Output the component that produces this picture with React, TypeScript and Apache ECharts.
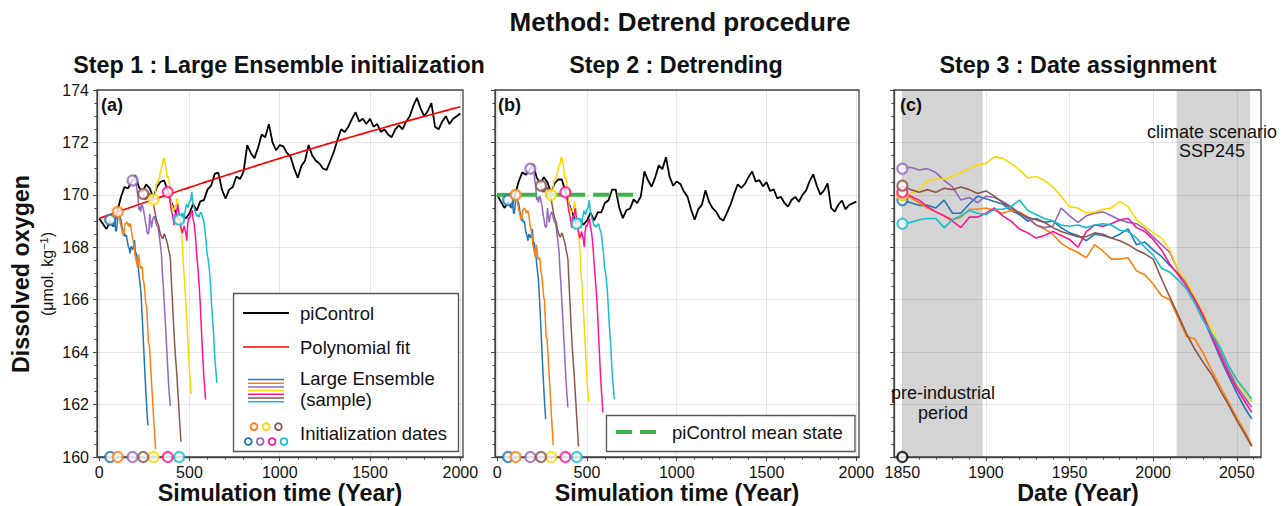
import React, { useEffect, useRef } from "react";
import * as echarts from "echarts";

const FONT = "'Liberation Sans', Arial, Helvetica, sans-serif";
const AXIS_COLOR = "#444";
const GRID_COLOR = "rgba(0,0,0,0.09)";

// ---------- data ----------
// piControl (raw, panel a): one value every 20 simulation years, year 0 .. 2000
const PIC_STEP = 20;
const PI_CONTROL = [
  169.1, 168.9, 168.7, 168.95, 168.8, 169.35, 169.9, 170.3, 170.25, 170.5,
  170.75, 170.3, 170.1, 170.4, 170.25, 169.9, 170.3, 170.5, 170.55, 170.15,
  169.7, 169.4, 169.05, 169.25, 169.1, 169.3, 169.65, 169.4, 169.75, 169.8,
  170.2, 170.35, 170.8, 170.85, 170.2, 169.85, 170.2, 170.3, 170.7, 170.6,
  170.9, 171.9, 171.6, 171.4, 171.8, 172.3, 172.2, 172.7, 172.0, 171.7,
  171.9, 171.85, 171.6, 171.45, 171.0, 170.65, 171.1, 171.3, 171.9, 171.5,
  171.3, 171.2, 171.0, 170.95, 171.3, 171.65, 172.1, 172.5, 172.4, 172.6,
  172.9, 173.15, 172.8, 172.9, 172.7, 172.9, 172.6, 172.7, 172.4, 172.5,
  172.3, 172.2, 172.5, 172.65, 172.5, 172.8, 173.0, 173.4, 173.7, 173.3,
  173.0, 173.2, 173.5, 172.6, 172.5, 172.8, 173.0, 172.7, 172.9, 173.0,
  173.1,
];

// polynomial fit of piControl: c0 + c1*t + c2*t^2
const FIT_COEFFS = [169.1, 0.00245, -1.6e-7];
const MEAN_STATE = 170;
const MEAN_STATE_SPAN = [0, 800];

// Large Ensemble members (detrended values, by date)
const LE_DATES = [
  1850, 1855, 1860, 1865, 1870, 1875, 1880, 1885, 1890, 1895,
  1900, 1905, 1910, 1915, 1920, 1925, 1930, 1935, 1940, 1945,
  1950, 1955, 1960, 1965, 1970, 1975, 1980, 1985, 1990, 1995,
  2000, 2005, 2010, 2015, 2020, 2025, 2030, 2035, 2040, 2045,
  2050, 2055, 2059,
];
const LE_BLUE = [
  169.8, 169.7, 169.6, 169.6, 169.5, 169.8, 169.3, 169.3, 169.65, 169.95,
  169.85, 169.75, 169.65, 169.4, 169.25, 169.0, 169.1, 168.95, 169.0, 168.75,
  168.55, 168.45, 168.25, 168.5, 168.45, 168.35, 168.5, 168.7, 168.1, 168.2,
  167.9, 167.65, 167.3, 167.0, 166.65, 166.0, 165.3, 164.55, 163.8, 163.1,
  162.45, 161.85, 161.45,
];
const LE_ORANGE = [
  170.0, 169.9, 169.7, 169.5, 169.35, 169.2, 169.05, 169.15, 169.45, 169.45,
  169.5, 169.4, 169.3, 169.4, 169.35, 169.15, 168.85, 168.7, 168.5, 168.15,
  167.95, 167.8, 167.6, 168.1, 167.85, 167.55, 167.55, 167.6, 167.1, 166.95,
  166.6, 166.15, 166.0, 165.3, 164.6, 164.5, 163.95, 163.3, 162.7, 162.1,
  161.5, 160.95, 160.45,
];
const LE_PURPLE = [
  171.0, 171.05, 170.95, 171.0, 170.85, 170.55, 170.3, 169.8, 169.9, 169.7,
  169.95, 169.9, 169.75, 169.55, 169.3, 169.1, 168.85, 168.75, 168.8, 169.5,
  169.2, 168.95, 169.2, 169.3, 169.35, 169.2, 169.05, 168.95, 168.9, 168.7,
  168.4, 168.1, 167.8, 167.1, 166.6, 165.95, 165.35, 164.7, 164.05, 163.35,
  162.7, 162.25, 161.9,
];
const LE_YELLOW = [
  170.0, 170.05, 170.2, 170.55, 170.6, 170.6, 170.7, 170.85, 171.0, 171.15,
  171.2, 171.45, 171.4, 171.2, 170.95, 170.65, 170.7, 170.55, 170.3, 169.95,
  169.55, 169.5, 169.3, 169.35, 169.45, 169.5, 169.75, 169.55, 169.05, 168.8,
  168.55, 168.35, 167.9, 167.1, 166.7, 166.1, 165.5, 164.9, 164.2, 163.5,
  162.9, 162.45, 162.1,
];
const LE_PINK = [
  170.1, 169.95, 169.8, 169.55, 169.35, 169.2, 169.0, 168.75, 169.15, 169.15,
  169.3, 169.5, 169.2, 169.0, 168.7, 168.55, 168.35, 168.45, 168.6, 168.45,
  168.3, 168.0, 168.6, 168.85, 168.8, 168.9, 169.05, 169.1, 168.75, 168.6,
  168.3, 167.9, 167.35, 166.95, 166.5, 166.0, 165.4, 164.6, 163.9, 163.2,
  162.6, 162.1, 161.7,
];
const LE_BROWN = [
  170.35, 170.2, 170.1, 170.2, 170.1, 170.25, 170.2, 170.3, 170.2, 170.05,
  170.15, 169.95, 169.7, 169.5, 169.3, 169.15, 169.05, 168.95, 168.75, 168.6,
  168.5, 168.4, 168.4, 168.55, 168.5, 168.35, 168.25, 168.1, 167.9, 167.75,
  167.55, 166.8, 166.1, 165.4, 164.7, 164.1, 163.6, 163.15, 162.55, 162.0,
  161.4, 160.85, 160.4,
];
const LE_CYAN = [
  168.9, 168.95, 169.05, 169.1, 169.1, 168.75, 169.05, 169.2, 169.4, 169.3,
  169.25, 169.45, 169.45, 169.55, 169.8, 169.4, 169.25, 169.1, 169.0, 168.85,
  168.8, 168.85, 168.75, 168.85, 168.9, 168.85, 168.65, 168.6, 168.35, 168.0,
  167.7, 167.2, 167.05, 166.75, 166.4, 165.85, 165.2, 164.7, 164.2, 163.5,
  162.95, 162.55, 162.2,
];
const LE_VALUES = [LE_BLUE, LE_ORANGE, LE_PURPLE, LE_YELLOW, LE_PINK, LE_BROWN, LE_CYAN];
const LE_COLORS = ["#1f77b4", "#ff7f0e", "#9467bd", "#ffd700", "#ff1493", "#8c564b", "#17becf"];
// initialization (branching) year of each member in simulation time
const INIT_YEARS = [61, 103, 185, 301, 380, 244, 443];

// axes
const Y_MIN = 160;
const Y_MAX = 174;
const Y_STEP = 2;
const SIM_RANGE = [-12, 2015];
const SIM_TICKS = [0, 500, 1000, 1500, 2000];
const SIM_MINOR = [0, 100, 200, 300, 400, 500, 600, 700, 800, 900, 1000, 1100, 1200, 1300, 1400, 1500, 1600, 1700, 1800, 1900, 2000];
const DATE_RANGE = [1845, 2064.5];
const DATE_TICKS = [1850, 1900, 1950, 2000, 2050];
const DATE_MINOR = [1850, 1860, 1870, 1880, 1890, 1900, 1910, 1920, 1930, 1940, 1950, 1960, 1970, 1980, 1990, 2000, 2010, 2020, 2030, 2040, 2050, 2060];
const PREINDUSTRIAL = [1850, 1898];
const SCENARIO = [2014, 2058];

// ---------- helpers ----------
const fit = (t: number) => FIT_COEFFS[0] + FIT_COEFFS[1] * t + FIT_COEFFS[2] * t * t;

function buildOption() {
  const picA = PI_CONTROL.map((v, i) => [i * PIC_STEP, v]);
  const fitA = PI_CONTROL.map((_, i) => [i * PIC_STEP, fit(i * PIC_STEP)]);
  const picB = PI_CONTROL.map((v, i) => [i * PIC_STEP, v - fit(i * PIC_STEP) + MEAN_STATE]);
  const leA = LE_VALUES.map((vals, k) =>
    vals.map((v, j) => {
      const t = INIT_YEARS[k] + LE_DATES[j] - LE_DATES[0];
      return [t, v + fit(t) - MEAN_STATE];
    })
  );
  const leB = LE_VALUES.map((vals, k) => vals.map((v, j) => [INIT_YEARS[k] + LE_DATES[j] - LE_DATES[0], v]));
  const leC = LE_VALUES.map((vals) => vals.map((v, j) => [LE_DATES[j], v]));

  const line = (name: string, data: any[], color: string, width: number, xi: number, extra: any = {}) => ({
    type: "line",
    name,
    data,
    xAxisIndex: xi,
    yAxisIndex: xi,
    showSymbol: false,
    symbol: "none",
    silent: true,
    lineStyle: { color, width },
    itemStyle: { color },
    z: 2,
    ...extra,
  });
  const circles = (pts: number[][], colors: string[], xi: number) => ({
    type: "scatter",
    xAxisIndex: xi,
    yAxisIndex: xi,
    symbol: "circle",
    symbolSize: 10,
    clip: false,
    silent: true,
    z: 4,
    itemStyle: { color: "#fff", borderWidth: 2.2 },
    data: pts.map((p, k) => ({ value: p, itemStyle: { color: "#fff", borderColor: colors[k], borderWidth: 2.2 } })),
  });

  const mainX = (gi: number, range: number[], ticks: number[]) => ({
    type: "value",
    gridIndex: gi,
    min: range[0],
    max: range[1],
    position: "bottom",
    z: 1.5,
    axisLine: { show: true, onZero: false, lineStyle: { color: AXIS_COLOR, width: 1.3 } },
    axisTick: { show: true, customValues: ticks, length: 4, lineStyle: { color: AXIS_COLOR, width: 1 } },
    axisLabel: {
      show: true,
      customValues: ticks,
      margin: 7,
      fontSize: 16,
      color: "#111",
      fontFamily: FONT,
      formatter: (v: number) => String(v),
    },
    splitLine: { show: true, lineStyle: { color: GRID_COLOR, width: 1 } },
    minorTick: { show: false },
  });
  const minorX = (gi: number, range: number[], ticks: number[]) => ({
    type: "value",
    gridIndex: gi,
    min: range[0],
    max: range[1],
    position: "bottom",
    z: 1.5,
    axisLine: { show: false, onZero: false },
    axisTick: { show: true, customValues: ticks, length: 2.5, lineStyle: { color: AXIS_COLOR, width: 1 } },
    axisLabel: { show: false },
    splitLine: { show: false },
  });
  const yAx = (gi: number, labels: boolean) => ({
    type: "value",
    gridIndex: gi,
    min: Y_MIN,
    max: Y_MAX,
    interval: Y_STEP,
    z: 1.5,
    axisLine: { show: true, onZero: false, lineStyle: { color: AXIS_COLOR, width: 1.3 } },
    axisTick: { show: true, length: 4, lineStyle: { color: AXIS_COLOR, width: 1 } },
    minorTick: { show: true, splitNumber: 4, length: 2.5, lineStyle: { color: AXIS_COLOR, width: 1 } },
    axisLabel: { show: labels, fontSize: 16, color: "#111", fontFamily: FONT, margin: 8, formatter: (v: number) => String(v) },
    splitLine: { show: true, lineStyle: { color: GRID_COLOR, width: 1 } },
    minorSplitLine: { show: false },
  });

  const gridBase = { top: 90, height: 367, show: true, borderColor: AXIS_COLOR, borderWidth: 1.3, z: 3, backgroundColor: "rgba(0,0,0,0)" };

  const series: any[] = [];
  // panel a
  series.push(line("piControl", picA, "#000", 1.8, 0));
  LE_VALUES.forEach((_, k) => series.push(line("LE a " + k, leA[k], LE_COLORS[k], 1.5, 0)));
  series.push(line("Polynomial fit", fitA, "#ff0000", 1.7, 0));
  series.push(circles(leA.map((d) => d[0]), LE_COLORS, 0));
  series.push(circles(INIT_YEARS.map((t) => [t, Y_MIN]), LE_COLORS, 0));
  // panel b
  series.push(line("piControl detrended", picB, "#000", 1.8, 1));
  LE_VALUES.forEach((_, k) => series.push(line("LE b " + k, leB[k], LE_COLORS[k], 1.5, 1)));
  series.push(
    line("piControl mean state", MEAN_STATE_SPAN.map((t) => [t, MEAN_STATE]), "#3cb44b", 4, 1, {
      lineStyle: { color: "#3cb44b", width: 4, type: [16, 8] },
      z: 3,
    })
  );
  series.push(circles(leB.map((d) => d[0]), LE_COLORS, 1));
  series.push(circles(INIT_YEARS.map((t) => [t, Y_MIN]), LE_COLORS, 1));
  // panel c
  LE_VALUES.forEach((_, k) =>
    series.push(
      line("LE c " + k, leC[k], LE_COLORS[k], 1.6, 2,
        k === 0
          ? {
              markArea: {
                silent: true,
                z: 1,
                itemStyle: { color: "#d4d4d4", opacity: 1, borderWidth: 0 },
                label: { show: false },
                data: [
                  [{ xAxis: PREINDUSTRIAL[0] }, { xAxis: PREINDUSTRIAL[1] }],
                  [{ xAxis: SCENARIO[0] }, { xAxis: SCENARIO[1] }],
                ],
              },
            }
          : {}
      )
    )
  );
  series.push(circles(leC.map((d) => d[0]), LE_COLORS, 2));
  series.push(circles([[LE_DATES[0], Y_MIN]], ["#000"], 2));

  const T = (text: string, x: number, y: number, font: string, align = "center", extra: any = {}) => ({
    type: "text",
    x,
    y,
    z: 20,
    silent: true,
    ...extra,
    style: { text, font, fill: "#111", align, verticalAlign: "middle", ...(extra.style || {}) },
  });

  const graphics: any[] = [
    T("Method: Detrend procedure", 680, 22, `bold 26px ${FONT}`),
    T("Step 1 : Large Ensemble initialization", 279, 65, `bold 23.3px ${FONT}`),
    T("Step 2 : Detrending", 676, 65, `bold 23.3px ${FONT}`),
    T("Step 3 : Date assignment", 1078, 65, `bold 23.3px ${FONT}`),
    T("Simulation time (Year)", 280, 493, `bold 23.3px ${FONT}`),
    T("Simulation time (Year)", 677, 493, `bold 23.3px ${FONT}`),
    T("Date (Year)", 1078, 493, `bold 23.3px ${FONT}`),
    T("Dissolved oxygen", 21, 274, `bold 23.3px ${FONT}`, "center", { rotation: Math.PI / 2 }),
    {
      type: "text",
      x: 47,
      y: 274,
      rotation: Math.PI / 2,
      z: 20,
      silent: true,
      style: {
        text: "(μmol. kg{sup|−1})",
        font: `16px ${FONT}`,
        fill: "#111",
        align: "center",
        verticalAlign: "middle",
        lineHeight: 18,
        rich: { sup: { fontSize: 11, fontFamily: FONT, fill: "#111", verticalAlign: "top", lineHeight: 18 } },
      },
    },
    T("(a)", 101, 105, `bold 18px ${FONT}`, "left"),
    T("(b)", 498, 105, `bold 18px ${FONT}`, "left"),
    T("(c)", 900, 105, `bold 18px ${FONT}`, "left"),
    // panel c annotations
    T("pre-industrial", 943, 393, `18px ${FONT}`),
    T("period", 943, 413, `18px ${FONT}`),
    T("climate scenario", 1212, 132, `18px ${FONT}`),
    T("SSP245", 1212, 151, `18px ${FONT}`),
    // legend a
    { type: "rect", z: 15, silent: true, shape: { x: 233.5, y: 293.5, width: 225, height: 158 }, style: { fill: "#fff", stroke: "#555", lineWidth: 1.3 } },
    { type: "line", z: 16, silent: true, shape: { x1: 243, y1: 313, x2: 289, y2: 313 }, style: { stroke: "#000", lineWidth: 1.8 } },
    T("piControl", 300, 313, `18.5px ${FONT}`, "left"),
    { type: "line", z: 16, silent: true, shape: { x1: 243, y1: 347, x2: 289, y2: 347 }, style: { stroke: "#ff0000", lineWidth: 1.7 } },
    T("Polynomial fit", 300, 347, `18.5px ${FONT}`, "left"),
    ...LE_COLORS.map((c, k) => ({
      type: "line",
      z: 16,
      silent: true,
      shape: { x1: 248, y1: 379.5 + k * 3.7, x2: 284, y2: 379.5 + k * 3.7 },
      style: { stroke: c, lineWidth: 1.5 },
    })),
    T("Large Ensemble", 300, 378, `18.5px ${FONT}`, "left"),
    T("(sample)", 300, 399, `18.5px ${FONT}`, "left"),
    ...[LE_COLORS[1], LE_COLORS[3], LE_COLORS[5]].map((c, k) => ({
      type: "circle",
      z: 16,
      silent: true,
      shape: { cx: 254 + k * 12.2, cy: 426.7, r: 3.4 },
      style: { fill: "#fff", stroke: c, lineWidth: 1.8 },
    })),
    ...[LE_COLORS[0], LE_COLORS[2], LE_COLORS[4], LE_COLORS[6]].map((c, k) => ({
      type: "circle",
      z: 16,
      silent: true,
      shape: { cx: 248.3 + k * 11.9, cy: 441.5, r: 3.4 },
      style: { fill: "#fff", stroke: c, lineWidth: 1.8 },
    })),
    T("Initialization dates", 300, 433, `18.5px ${FONT}`, "left"),
    // legend b
    { type: "rect", z: 15, silent: true, shape: { x: 606.5, y: 415.5, width: 248.5, height: 36 }, style: { fill: "#fff", stroke: "#555", lineWidth: 1.3 } },
    { type: "line", z: 16, silent: true, shape: { x1: 616, y1: 432, x2: 658, y2: 432 }, style: { stroke: "#3cb44b", lineWidth: 4, lineDash: [16, 8] } },
    T("piControl mean state", 672, 432, `18.5px ${FONT}`, "left"),
  ];

  return {
    animation: false,
    backgroundColor: "#fff",
    textStyle: { fontFamily: FONT },
    grid: [
      { ...gridBase, left: 97, width: 366 },
      { ...gridBase, left: 495, width: 364 },
      { ...gridBase, left: 894, width: 367 },
    ],
    xAxis: [
      mainX(0, SIM_RANGE, SIM_TICKS),
      mainX(1, SIM_RANGE, SIM_TICKS),
      mainX(2, DATE_RANGE, DATE_TICKS),
      minorX(0, SIM_RANGE, SIM_MINOR),
      minorX(1, SIM_RANGE, SIM_MINOR),
      minorX(2, DATE_RANGE, DATE_MINOR),
    ],
    yAxis: [yAx(0, true), yAx(1, false), yAx(2, false)],
    series,
    graphic: graphics,
  };
}

export default function App() {
  const ref = useRef<HTMLDivElement>(null);
  useEffect(() => {
    if (!ref.current) return;
    const chart = echarts.init(ref.current, null, { renderer: "svg" });
    chart.setOption(buildOption() as any);
    return () => chart.dispose();
  }, []);
  return (
    <div
      ref={ref}
      style={{ position: "absolute", left: 0, top: 0, width: 1282, height: 506, background: "#fff" }}
    />
  );
}
